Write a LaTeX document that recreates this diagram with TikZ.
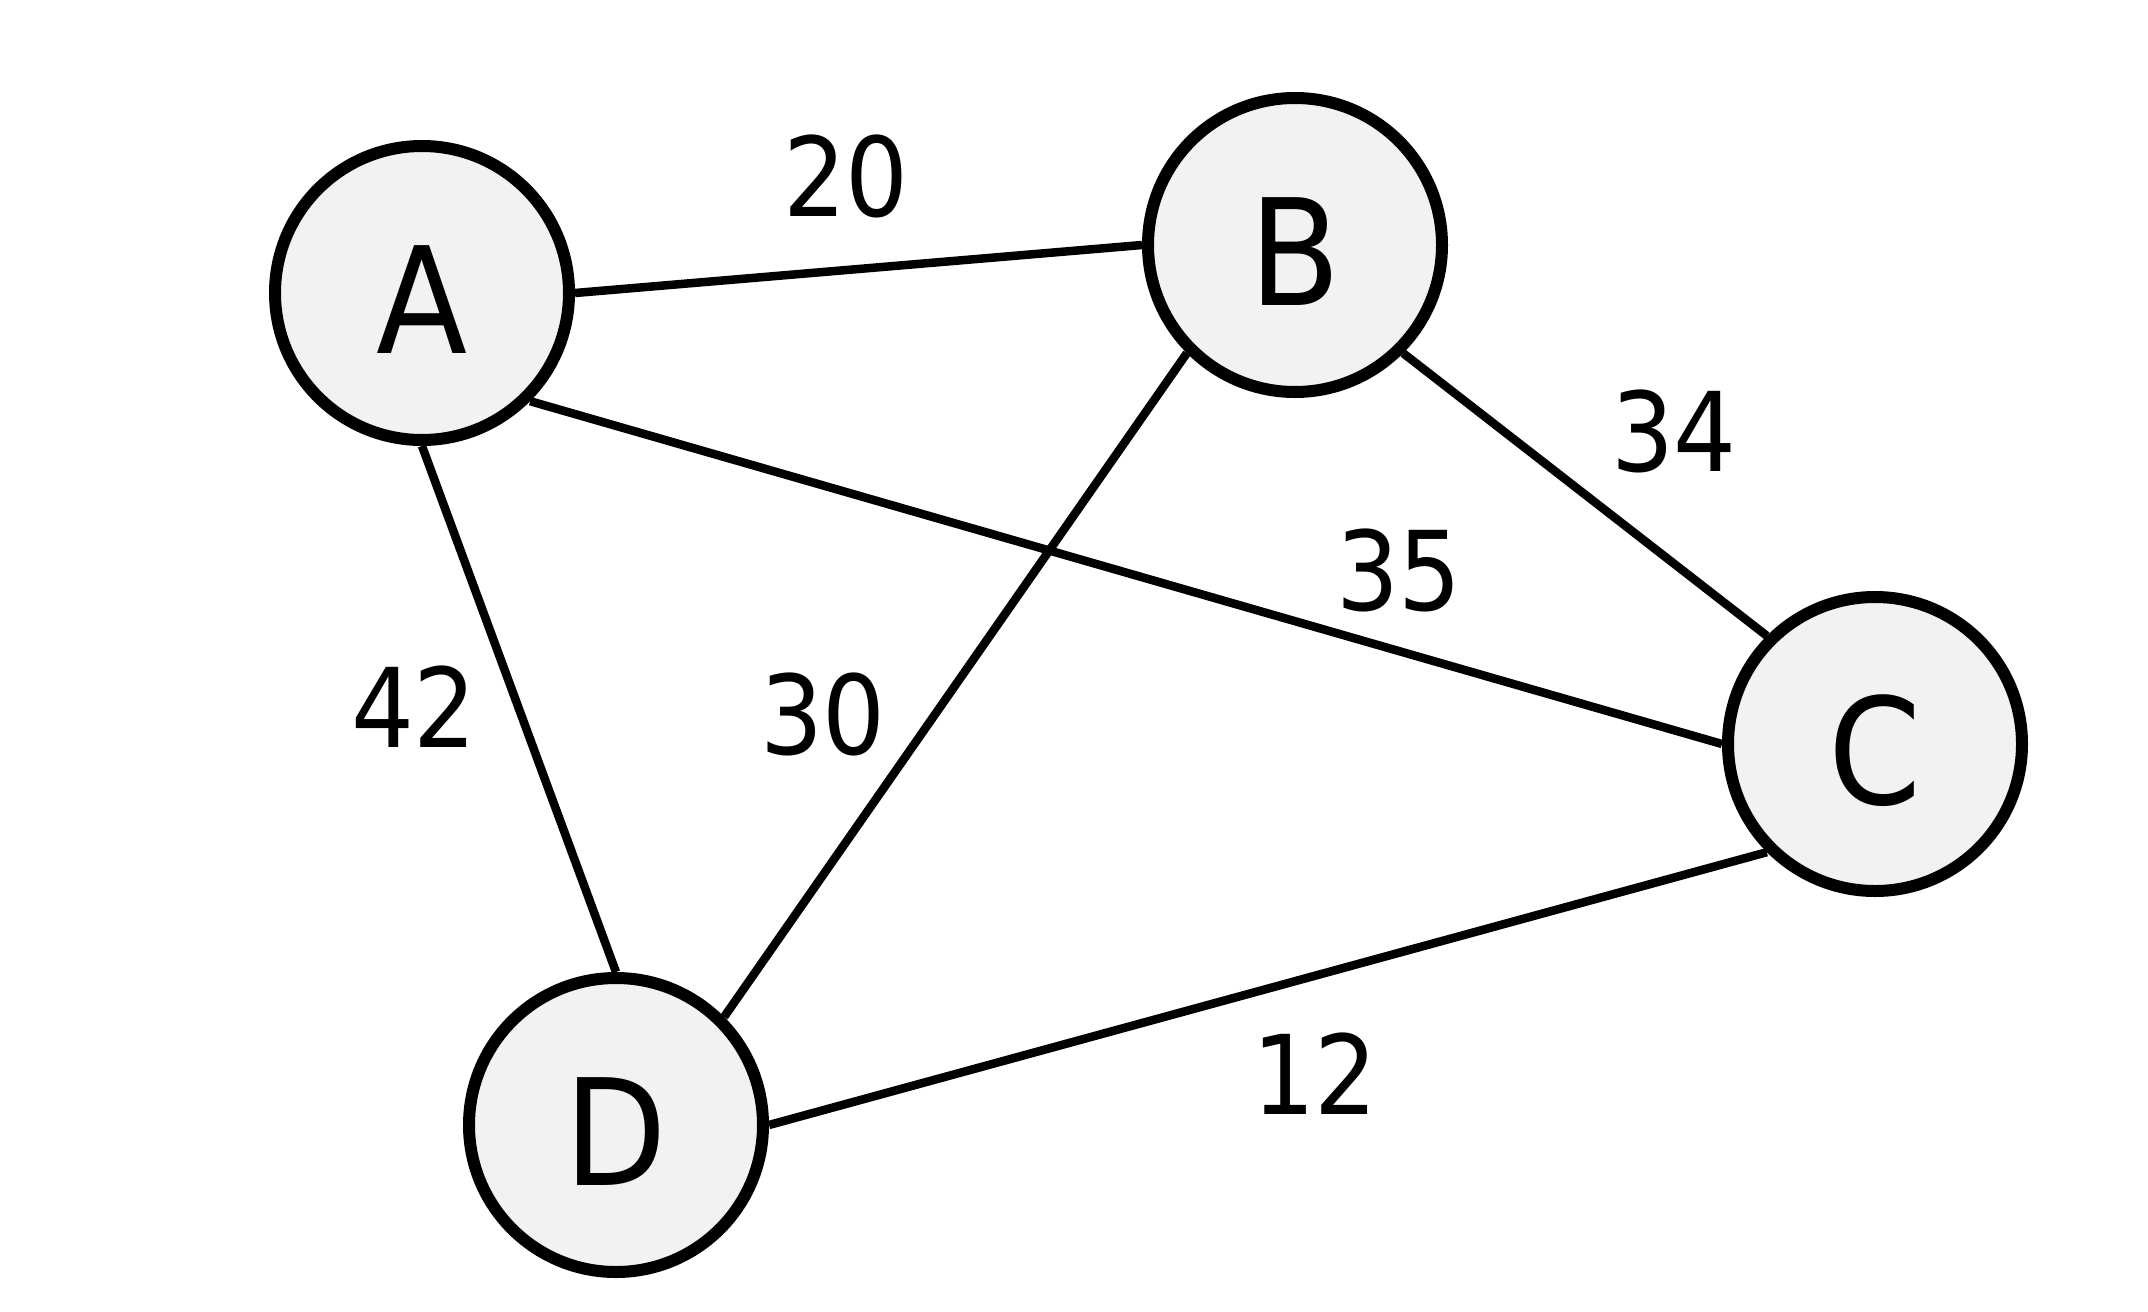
\documentclass[tikz,border=0pt]{standalone}
\usepackage{fontspec}
\setmainfont{DejaVu Sans Condensed}
\definecolor{nodefill}{HTML}{F2F2F2}
\begin{document}
\begin{tikzpicture}[x=1pt,y=-1pt,
  vertex/.style={circle,draw=black,line width=12pt,fill=nodefill,minimum size=294pt,inner sep=0pt,text height=120pt,text depth=0pt,font=\fontsize{148}{150}\selectfont},
  edge/.style={draw=black,line width=8.5pt},
  weight/.style={inner sep=0pt,font=\fontsize{110}{112}\selectfont}]
\useasboundingbox (0,0) rectangle (2148,1312);
\node[vertex] (A) at (422,293) {A};
\node[vertex] (B) at (1295,245) {B};
\node[vertex] (C) at (1875,744) {C};
\node[vertex] (D) at (616,1125) {D};
\draw[edge] (A.east) -- (B.west);
\draw[edge] (A.south east) -- (C.west);
\draw[edge] (A.south) -- (D.north);
\draw[edge] (B.south west) -- (D.north east);
\draw[edge] (B.south east) -- (C.north west);
\draw[edge] (D.east) -- (C.south west);
\node[weight] (w20) at (846,176) {20};
\node[weight] (w34) at (1674,431) {34};
\node[weight] (w35) at (1399,570) {35};
\node[weight] (w42) at (414,707) {42};
\node[weight] (w30) at (823,714) {30};
\node[weight] (w12) at (1315,1074) {12};
\end{tikzpicture}
\end{document}
